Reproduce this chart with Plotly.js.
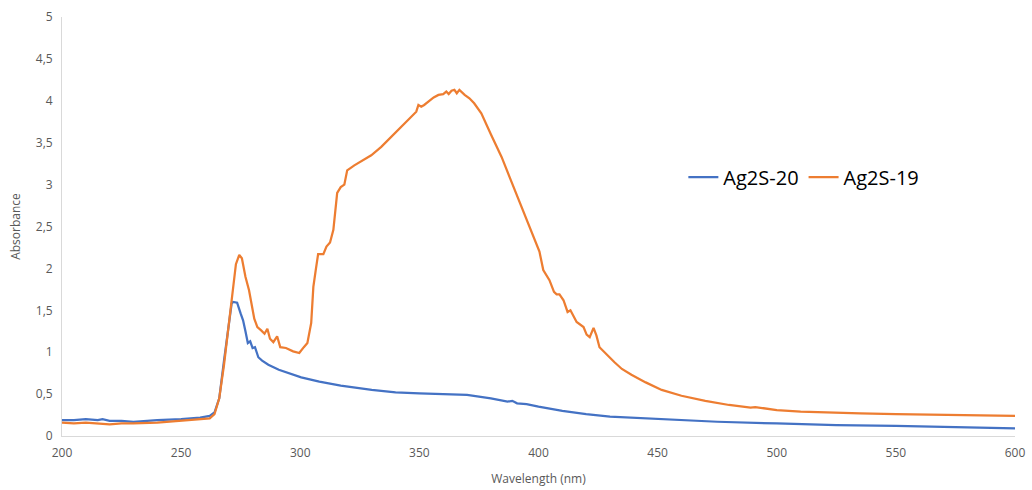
<!DOCTYPE html>
<html>
<head>
<meta charset="utf-8">
<script src="https://cdn.plot.ly/plotly-3.0.1.min.js"></script>
<style>html,body{margin:0;padding:0;background:#fff;}#chart{width:1032px;height:490px;}</style>
</head>
<body>
<div id="chart"></div>
<script>
const seriesNames = ["Ag2S-20", "Ag2S-19"];

const wl20 = [200,205,210,215,217,220,225,230,240,250,258,262,264,266,268,270,271.2,271.8,273.5,275,276,277,278,279,280,281,282.4,284,286.6,291,295,300.4,308,317,330,340,350,360,370,380,387,389,391,395,400,410,420,430,450,475,500,525,550,575,600];
const abs20 = [0.19,0.19,0.2,0.19,0.2,0.18,0.18,0.17,0.19,0.2,0.22,0.24,0.28,0.45,0.9,1.3,1.58,1.6,1.59,1.46,1.38,1.25,1.11,1.13,1.05,1.06,0.94,0.9,0.85,0.79,0.75,0.70,0.65,0.60,0.55,0.52,0.51,0.50,0.49,0.45,0.41,0.42,0.39,0.38,0.35,0.30,0.26,0.23,0.2,0.17,0.15,0.13,0.12,0.105,0.09];

const wl19 = [200,205,210,215,220,225,230,240,250,258,262,264,266,268,270,271.5,273,274.4,275.5,277,278.5,280.7,282,283.6,285,286.2,287.3,288.7,290.3,291.6,294,297,299.6,301.5,303,304.6,305.5,306.5,307.5,309.7,311,312.5,313.9,315.5,317,318.5,319.7,322.7,326,329.8,334,338.2,342,345.4,348.7,349.6,350.8,352,353.8,356,358,360,361.3,362.3,363.5,364.7,365.7,366.8,369,371,373,376,380,384.5,388,391.6,396,400.4,402,404.6,406.5,407.6,408.8,410.5,412.2,413.4,416,418.9,420.2,421.5,423.1,424.3,425.6,428,431.9,435,439,445,451.7,460,470,480,489,491,500,510,520,535,550,570,585,600];
const abs19 = [0.16,0.15,0.16,0.15,0.14,0.15,0.15,0.16,0.18,0.20,0.21,0.26,0.45,0.85,1.35,1.75,2.05,2.16,2.12,1.9,1.74,1.4,1.3,1.26,1.22,1.28,1.16,1.12,1.19,1.06,1.05,1.01,0.99,1.06,1.11,1.35,1.78,1.98,2.17,2.17,2.26,2.31,2.46,2.90,2.97,3.0,3.17,3.23,3.29,3.35,3.45,3.57,3.67,3.77,3.87,3.95,3.93,3.95,3.99,4.04,4.07,4.08,4.11,4.08,4.12,4.13,4.09,4.13,4.07,4.03,3.97,3.85,3.6,3.33,3.08,2.82,2.5,2.20,1.98,1.86,1.72,1.69,1.69,1.62,1.48,1.5,1.36,1.3,1.21,1.18,1.29,1.2,1.06,0.99,0.88,0.80,0.73,0.64,0.55,0.48,0.42,0.37,0.34,0.345,0.31,0.29,0.28,0.27,0.26,0.25,0.245,0.24];

const xTicks = [200,250,300,350,400,450,500,550,600];
const yTicks = [0,0.5,1,1.5,2,2.5,3,3.5,4,4.5,5];

const font = "Open Sans, Liberation Sans, sans-serif";

const traces = [
  {x: wl20, y: abs20, name: seriesNames[0], type: "scatter", mode: "lines",
   line: {color: "#4472C4", width: 2.25}},
  {x: wl19, y: abs19, name: seriesNames[1], type: "scatter", mode: "lines",
   line: {color: "#ED7D31", width: 2.25}}
];

const layout = {
  width: 1032, height: 490,
  margin: {l: 62, r: 17, t: 17, b: 54},
  paper_bgcolor: "#fff", plot_bgcolor: "#fff",
  separators: ", ",
  font: {family: font, color: "#595959", size: 12},
  showlegend: true,
  legend: {orientation: "h", x: 0.652, y: 0.618, xanchor: "left", yanchor: "middle",
    font: {family: font, size: 20, color: "#000"}, bgcolor: "rgba(0,0,0,0)"},
  xaxis: {
    range: [200, 600], tickvals: xTicks, ticktext: xTicks.map(String),
    showgrid: false, zeroline: false, showline: true, linecolor: "#d9d9d9", linewidth: 1,
    ticks: "", ticklen: 0, ticklabelstandoff: 6,
    title: {text: "Wavelength (nm)", font: {family: font, size: 12, color: "#595959"}, standoff: 14}
  },
  yaxis: {
    range: [0, 5], tickvals: yTicks,
    showgrid: false, zeroline: false, showline: true, linecolor: "#d9d9d9", linewidth: 1,
    ticks: "", ticklen: 0, ticklabelstandoff: 6,
    title: {text: "Absorbance", font: {family: font, size: 12, color: "#595959"}, standoff: 12}
  }
};

Plotly.newPlot("chart", traces, layout, {displayModeBar: false, staticPlot: true});
</script>
</body>
</html>
